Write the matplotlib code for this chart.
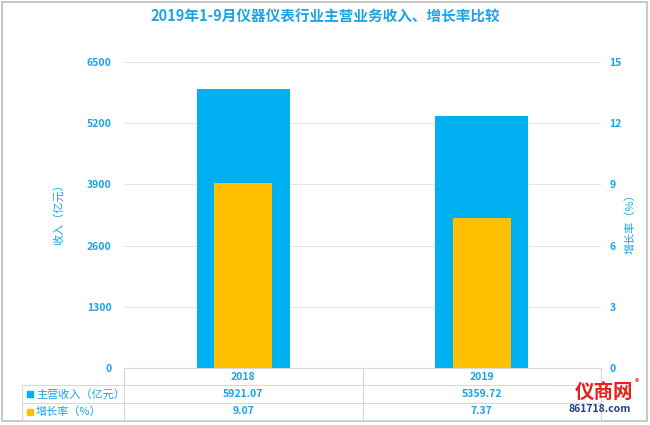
import numpy as np
import matplotlib.pyplot as plt
from matplotlib.patches import Rectangle

plt.rcParams['font.family'] = ['Noto Sans CJK SC', 'DejaVu Sans']

# data
years = ['2018', '2019']
revenue = [5921.07, 5359.72]       # 主营收入 (亿元)
growth = [9.07, 7.37]              # 增长率 (%)
left_ticks = [0, 1300, 2600, 3900, 5200, 6500]
right_ticks = [0, 3, 6, 9, 12, 15]

BLUE = '#00B0F0'
YELLOW = '#FFC000'
TXT = '#1AA3E6'

W, H = 650, 425
fig = plt.figure(figsize=(6.5, 4.25), dpi=100)

# plot area in pixels
x0, x1 = 124, 601
y_top, y_bot = 62, 368
ax = fig.add_axes([x0 / W, 1 - y_bot / H, (x1 - x0) / W, (y_bot - y_top) / H])
ax2 = ax.twinx()

x = np.arange(len(years))
ax.bar(x, revenue, width=0.39, color=BLUE, zorder=2)
ax2.bar(x, growth, width=0.245, color=YELLOW, zorder=3)

ax.set_xlim(-0.5, len(years) - 0.5)
ax.set_ylim(0, 6500)
ax2.set_ylim(0, 15)
ax.set_yticks(left_ticks)
ax2.set_yticks(right_ticks)
ax.set_xticks([])
ax.grid(axis='y', color='#E6E6E6', linewidth=0.8, zorder=0)

for a in (ax, ax2):
    for s in a.spines.values():
        s.set_visible(False)
    a.tick_params(length=0, labelsize=7.5, labelcolor=TXT)
    for lab in a.get_yticklabels():
        lab.set_fontweight('bold')
ax.tick_params(axis='y', pad=9)
ax2.tick_params(axis='y', pad=6)

ax.set_ylabel('收入（亿元）', color=TXT, fontsize=8)
ax.yaxis.set_label_coords((64 - x0) / (x1 - x0), 0.51)
ax2.set_ylabel('增长率（%）', color=TXT, fontsize=8, rotation=90, va='center')
ax2.yaxis.set_label_coords((630 - x0) / (x1 - x0), 0.48)

fig.text(0.5, 1 - 17 / H, '2019年1-9月仪器仪表行业主营业务收入、增长率比较',
         ha='center', va='center', color=TXT, fontsize=10.5, fontweight='bold')

# data table under the chart
grid_c = '#D9D9D9'
row_y = [368, 385, 403, 420]
col_x = [x0, (x0 + x1) / 2, x1]
lab_x0 = 22
def fx(px): return px / W
def fy(py): return 1 - py / H

for i, yy in enumerate(row_y):
    xs = x0 if i == 0 else lab_x0
    fig.add_artist(plt.Line2D([fx(xs), fx(x1)], [fy(yy), fy(yy)], color=grid_c, lw=0.8))
for xx in col_x:
    fig.add_artist(plt.Line2D([fx(xx), fx(xx)], [fy(row_y[0]), fy(row_y[-1])], color=grid_c, lw=0.8))
fig.add_artist(plt.Line2D([fx(lab_x0), fx(lab_x0)], [fy(row_y[1]), fy(row_y[-1])], color=grid_c, lw=0.8))

centers = [(col_x[i] + col_x[i + 1]) / 2 for i in range(len(years))]
for i, yr in enumerate(years):
    cy = (row_y[0] + row_y[1]) / 2
    fig.text(fx(centers[i]), fy(cy), yr, ha='center', va='center', color=TXT, fontsize=7.5, fontweight='bold')
    cy = (row_y[1] + row_y[2]) / 2
    fig.text(fx(centers[i]), fy(cy), f'{revenue[i]:.2f}', ha='center', va='center', color=TXT, fontsize=7.5, fontweight='bold')
    cy = (row_y[2] + row_y[3]) / 2
    fig.text(fx(centers[i]), fy(cy), f'{growth[i]:.2f}', ha='center', va='center', color=TXT, fontsize=7.5, fontweight='bold')

for k, (name, col) in enumerate([('主营收入（亿元）', BLUE), ('增长率（%）', YELLOW)]):
    cy = (row_y[k + 1] + row_y[k + 2]) / 2
    fig.add_artist(Rectangle((fx(27), fy(cy + 3)), 6 / W, 6 / H, color=col, transform=fig.transFigure))
    fig.text(fx(36), fy(cy), name, ha='left', va='center', color=TXT, fontsize=8)

# logo text
fig.text(fx(604), fy(393), '仪商网', ha='center', va='center', color='#E8201A', fontsize=14, fontweight='bold')
fig.text(fx(637), fy(383), '®', ha='center', va='center', color='#E8201A', fontsize=6)
fig.text(fx(600), fy(409), '861718.com', ha='center', va='center', color='#1F3D8C', fontsize=7.5, fontweight='bold', style='italic')

# outer frame
fig.add_artist(Rectangle((2 / W, 4 / H), (W - 5) / W, (H - 6) / H, fill=False,
                         edgecolor='#BFBFBF', lw=1.2, transform=fig.transFigure))

fig.savefig('out.png', dpi=100)
